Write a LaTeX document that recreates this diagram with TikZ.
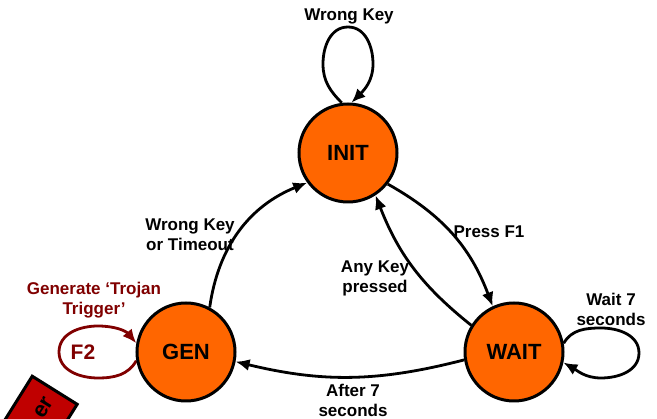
\documentclass[tikz,border=0pt]{standalone}
\usepackage{fontspec}
\setmainfont{Liberation Sans}
\usetikzlibrary{arrows.meta}
\pgfdeclarelayer{edgelayer}
\pgfdeclarelayer{nodelayer}
\pgfsetlayers{edgelayer,nodelayer,main}
\definecolor{stateorange}{RGB}{255,102,0}
\definecolor{trojanred}{RGB}{128,0,0}
\definecolor{boxred}{RGB}{192,0,0}
\tikzstyle{none}=[inner sep=0pt]
\tikzstyle{state}=[circle,fill=stateorange,draw=black,line width=3pt,minimum size=98pt,inner sep=0pt,font=\fontsize{22}{26}\selectfont\bfseries]
\tikzstyle{cond}=[inner sep=0pt,align=center,font=\fontsize{17}{20}\selectfont\bfseries]
\tikzstyle{trojan}=[cond,text=trojanred]
\tikzstyle{transition}=[-{Latex[length=14pt,width=12pt]},draw=black,line width=2.8pt]
\tikzstyle{trojanloop}=[transition,draw=trojanred]
\tikzstyle{trigger}=[rectangle,draw=black,fill=boxred,line width=3pt,minimum height=53pt,text width=110pt,align=right,inner xsep=10pt,font=\fontsize{22}{26}\selectfont\bfseries]

\begin{document}
\begin{tikzpicture}[x=1pt,y=1pt]
	\useasboundingbox (0,0) rectangle (657,-419);
	\begin{pgfonlayer}{nodelayer}
		\node [style=state] (0) at (348, -153) {INIT};
		\node [style=state] (1) at (514, -352) {WAIT};
		\node [style=state] (2) at (186, -352) {GEN};
		\node [style=cond] (3) at (349, -16) {Wrong Key};
		\node [style=cond] (4) at (489, -232) {Press F1};
		\node [style=cond] (5) at (375, -278) {Any Key\\pressed};
		\node [style=cond] (6) at (611, -309) {Wait 7\\seconds};
		\node [style=cond] (7) at (353, -400) {After 7\\seconds};
		\node [style=cond] (8) at (190, -235) {Wrong Key\\or Timeout};
		\node [style=trojan] (9) at (94, -300) {Generate `Trojan\\Trigger'};
		\node [style=trojan, font=\fontsize{21}{25}\selectfont\bfseries] (10) at (83, -352) {F2};
		\begin{scope}
			\clip (0,0) rectangle (657,-419);
			\node [style=trigger, rotate=58, anchor=east] (11) at (55.5, -389) {er};
		\end{scope}
	\end{pgfonlayer}
	\begin{pgfonlayer}{edgelayer}
		\draw [style=transition] (0.-38) to[bend left=20] (1.115);
		\draw [style=transition] (1.148) to[bend left=15] (0.-57);
		\draw [style=transition] (1.189) to[bend left=14] (2.-11);
		\draw [style=transition] (2.62) to[bend left=30] (0.216);
		\draw [style=transition] (0.97) to[out=135,in=-90] (323,-64) to[out=90,in=180] (348,-27)
			to[out=0,in=90] (373,-64) to[out=-90,in=45] (0.86);
		\draw [style=transition] (1.10) to[out=60,in=180] (601,-328) to[out=0,in=90] (639,-353)
			to[out=-90,in=0] (601,-378) to[out=180,in=-30] (1.-12);
		\draw [style=trojanloop] (2.190) to[out=-120,in=0] (98,-378) to[out=180,in=-90] (59,-352)
			to[out=90,in=180] (98,-326) to[out=0,in=130] (2.170);
	\end{pgfonlayer}
\end{tikzpicture}
\end{document}
